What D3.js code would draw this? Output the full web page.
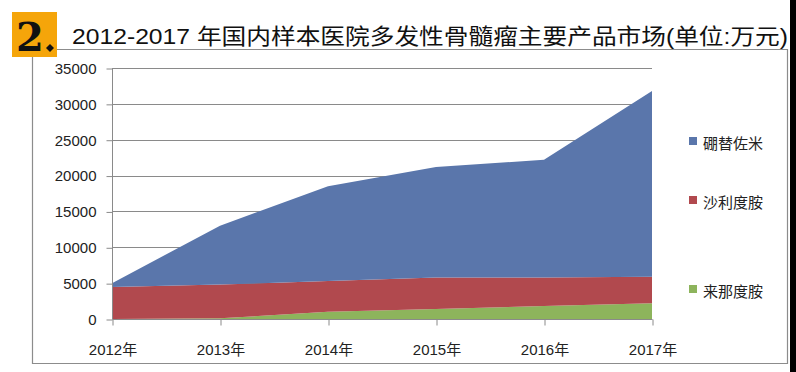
<!DOCTYPE html>
<html>
<head>
<meta charset="utf-8">
<script src="https://cdn.jsdelivr.net/npm/d3@7"></script>
<style>
  body { margin: 0; background: #fff; }
  svg text { font-family: "Liberation Sans", "Noto Sans CJK SC", sans-serif; }
</style>
</head>
<body>
<div id="chart"></div>
<script>
const years = ['2012年', '2013年', '2014年', '2015年', '2016年', '2017年'];
const seriesNames = ['来那度胺', '沙利度胺', '硼替佐米'];
const lenalidomide = [0, 100, 1000, 1400, 1800, 2200];
const thalidomide = [4450, 4700, 4300, 4400, 4000, 3700];
const bortezomib = [550, 8200, 13200, 15400, 16400, 25900];
const yTicks = [0, 5000, 10000, 15000, 20000, 25000, 30000, 35000];
const colors = ['#8db45c', '#b1494e', '#5a76ab'];

const width = 796, height = 372;

const svg = d3.select('#chart')
  .append('svg')
  .attr('width', width)
  .attr('height', height);

// build rows for the stack
const rows = years.map((y, i) => ({
  year: y,
  '来那度胺': lenalidomide[i],
  '沙利度胺': thalidomide[i],
  '硼替佐米': bortezomib[i]
}));

const x = d3.scalePoint().domain(years).range([112, 652]);
const y = d3.scaleLinear().domain([0, 35000]).range([319, 68]);

// frame and header
svg.append('rect')
  .attr('x', 790).attr('y', 0).attr('width', 6).attr('height', height)
  .attr('fill', '#000');

svg.append('path')
  .attr('d', 'M57,49.5H787.5V363.5H32.5V57')
  .attr('fill', 'none')
  .attr('stroke', '#8c8c8c')
  .attr('stroke-width', 1.2);

svg.append('rect')
  .attr('x', 12).attr('y', 12).attr('width', 45).attr('height', 45)
  .attr('fill', '#f5a50a');

svg.append('text')
  .attr('x', 30).attr('y', 51)
  .attr('text-anchor', 'middle')
  .style('font-family', '"DejaVu Serif", serif')
  .style('font-weight', 'bold')
  .style('font-size', '40px')
  .attr('fill', '#111')
  .text('2');

svg.append('path')
  .attr('d', 'M50,44l4,4l-4,4l-4,-4z')
  .attr('fill', '#111');

svg.append('text')
  .attr('x', 72).attr('y', 44)
  .attr('textLength', 716)
  .attr('lengthAdjust', 'spacingAndGlyphs')
  .style('font-size', '22px')
  .attr('fill', '#111')
  .text('2012-2017 年国内样本医院多发性骨髓瘤主要产品市场(单位:万元)');

// gridlines
svg.append('g')
  .selectAll('line')
  .data(yTicks.slice(1))
  .enter().append('line')
  .attr('x1', 112).attr('x2', 652)
  .attr('y1', d => Math.round(y(d)) + 0.5)
  .attr('y2', d => Math.round(y(d)) + 0.5)
  .attr('stroke', '#8a8a8a');

// stacked areas
const stack = d3.stack().keys(seriesNames);
const area = d3.area()
  .x(d => x(d.data.year))
  .y0(d => y(d[0]))
  .y1(d => y(d[1]));

svg.append('g')
  .selectAll('path')
  .data(stack(rows))
  .enter().append('path')
  .attr('d', area)
  .attr('fill', (d, i) => colors[i]);

// y axis
const yAxis = svg.append('g')
  .attr('transform', 'translate(112.5,0.5)')
  .call(d3.axisLeft(y).tickValues(yTicks).tickSize(6).tickPadding(10).tickFormat(d3.format('d')));
yAxis.selectAll('line, path').attr('stroke', '#8a8a8a');
yAxis.select('.domain').attr('d', `M0,${y(35000)}V${y(0)}`);
yAxis.selectAll('text')
  .style('font-size', '15px')
  .attr('fill', '#222');

// x axis
const xAxis = svg.append('g')
  .attr('transform', 'translate(0.5,319.5)')
  .call(d3.axisBottom(x).tickSize(6).tickPadding(19));
xAxis.selectAll('line, path').attr('stroke', '#8a8a8a');
xAxis.select('.domain').attr('d', 'M112,0H652');
xAxis.selectAll('text')
  .style('font-size', '15px')
  .attr('fill', '#222');

// legend
const legendY = [292, 203, 144];
const legend = svg.append('g')
  .selectAll('g')
  .data(seriesNames)
  .enter().append('g')
  .attr('transform', (d, i) => `translate(689,${legendY[i]})`);

legend.append('rect')
  .attr('x', 0).attr('y', -7)
  .attr('width', 8).attr('height', 8)
  .attr('fill', (d, i) => colors[i]);

legend.append('text')
  .attr('x', 14).attr('y', 0)
  .attr('dy', '0.35em')
  .style('font-size', '15px')
  .attr('fill', '#222')
  .text(d => d);
</script>
</body>
</html>
